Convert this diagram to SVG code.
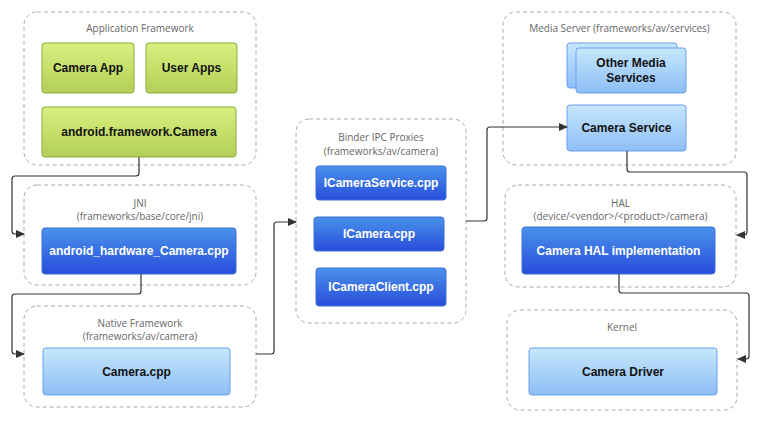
<svg xmlns="http://www.w3.org/2000/svg" width="760" height="421" viewBox="0 0 760 421">
<defs>
<linearGradient id="gGreen" x1="0" y1="0" x2="0" y2="1"><stop offset="0" stop-color="#d8f07e"/><stop offset="1" stop-color="#b3cf58"/></linearGradient>
<linearGradient id="gDark" x1="0" y1="0" x2="0" y2="1"><stop offset="0" stop-color="#4a92ea"/><stop offset="1" stop-color="#284ddc"/></linearGradient>
<linearGradient id="gLight" x1="0" y1="0" x2="0" y2="1"><stop offset="0" stop-color="#c6e7fb"/><stop offset="1" stop-color="#8ebef7"/></linearGradient>
<marker id="arr" markerWidth="9" markerHeight="8" refX="8" refY="4" orient="auto" markerUnits="userSpaceOnUse"><path d="M0,0 L9,4 L0,8 Z" fill="#333"/></marker>
<style>
.cont{fill:#fff;stroke:#aaa;stroke-width:1;stroke-dasharray:4 3}
.title{font-family:"Open Sans","DejaVu Sans",sans-serif;font-size:10px;fill:#666;text-anchor:middle}
.green{fill:url(#gGreen);stroke:#8dab3c;stroke-width:1}
.dark{fill:url(#gDark);stroke:#3d6fd8;stroke-width:1}
.light{fill:url(#gLight);stroke:#6a9fe9;stroke-width:1}
.lbl{font-family:"Liberation Sans",Arial,sans-serif;font-size:12px;font-weight:bold;text-anchor:middle;fill:#111}
.wl{fill:#fff}
.conn{fill:none;stroke:#333;stroke-width:1.2;marker-end:url(#arr)}
</style>
</defs>
<rect width="760" height="421" fill="#fff"/>

<g id="app-framework">
<rect class="cont" x="24" y="12" width="232" height="153" rx="13"/>
<text class="title" x="140" y="31.5">Application Framework</text>
</g>
<g id="camera-app">
<rect class="green" x="42" y="43" width="92" height="50" rx="3"/>
<text class="lbl" x="88" y="72">Camera App</text>
</g>
<g id="user-apps">
<rect class="green" x="146" y="43" width="91" height="50" rx="3"/>
<text class="lbl" x="191.5" y="72">User Apps</text>
</g>
<g id="android-framework-camera">
<rect class="green" x="42" y="107" width="194" height="50" rx="3"/>
<text class="lbl" x="139" y="136">android.framework.Camera</text>
</g>

<g id="jni">
<rect class="cont" x="24" y="185" width="232" height="100" rx="13"/>
<text class="title" x="140" y="206.5">JNI</text>
<text class="title" x="140" y="219.5">(frameworks/base/core/jni)</text>
</g>
<g id="android-hardware-camera">
<rect class="dark" x="42" y="228" width="194" height="46" rx="3"/>
<text class="lbl wl" x="139" y="255">android_hardware_Camera.cpp</text>
</g>

<g id="native-framework">
<rect class="cont" x="24" y="306" width="232" height="101" rx="13"/>
<text class="title" x="140" y="326.5">Native Framework</text>
<text class="title" x="140" y="339.5">(frameworks/av/camera)</text>
</g>
<g id="camera-cpp">
<rect class="light" x="43" y="348" width="187" height="47" rx="3"/>
<text class="lbl" x="136.5" y="375.5">Camera.cpp</text>
</g>

<g id="binder-ipc">
<rect class="cont" x="296" y="119" width="170" height="204" rx="13"/>
<text class="title" x="381" y="140.5">Binder IPC Proxies</text>
<text class="title" x="381" y="154.5">(frameworks/av/camera)</text>
</g>
<g id="icameraservice">
<rect class="dark" x="316" y="166" width="130" height="34" rx="3"/>
<text class="lbl wl" x="381" y="187">ICameraService.cpp</text>
</g>
<g id="icamera">
<rect class="dark" x="314" y="217" width="130" height="34" rx="3"/>
<text class="lbl wl" x="379" y="238">ICamera.cpp</text>
</g>
<g id="icameraclient">
<rect class="dark" x="316" y="268" width="130" height="38" rx="3"/>
<text class="lbl wl" x="381" y="291">ICameraClient.cpp</text>
</g>

<g id="media-server">
<rect class="cont" x="503" y="12" width="233" height="153" rx="13"/>
<text class="title" x="619.5" y="31.5">Media Server (frameworks/av/services)</text>
</g>
<g id="other-media-services">
<rect class="light" x="567" y="43" width="110" height="45" rx="3"/>
<rect class="light" x="576" y="48" width="110" height="45" rx="3"/>
<text class="lbl" x="631" y="67">Other Media</text>
<text class="lbl" x="631" y="82">Services</text>
</g>
<g id="camera-service">
<rect class="light" x="567" y="105" width="119" height="46" rx="3"/>
<text class="lbl" x="626.5" y="132">Camera Service</text>
</g>

<g id="hal">
<rect class="cont" x="505" y="185" width="231" height="102" rx="13"/>
<text class="title" x="620.5" y="207">HAL</text>
<text class="title" x="620.5" y="219.5">(device/&lt;vendor&gt;/&lt;product&gt;/camera)</text>
</g>
<g id="camera-hal">
<rect class="dark" x="522" y="227" width="193" height="47" rx="3"/>
<text class="lbl wl" x="618.5" y="254.5">Camera HAL implementation</text>
</g>

<g id="kernel">
<rect class="cont" x="507" y="310" width="230" height="100" rx="13"/>
<text class="title" x="622" y="330.5">Kernel</text>
</g>
<g id="camera-driver">
<rect class="light" x="529" y="348" width="188" height="47" rx="3"/>
<text class="lbl" x="623" y="375.5">Camera Driver</text>
</g>

<g id="connectors">
<path class="conn" d="M139,157 V173 Q139,176 136,176 H15 Q12,176 12,179 V231 Q12,234 15,234 H24"/>
<path class="conn" d="M141,274 V291 Q141,294 138,294 H15 Q12,294 12,297 V351 Q12,354 15,354 H24"/>
<path class="conn" d="M256,354 H271 Q274,354 274,351 V225 Q274,222 277,222 H296"/>
<path class="conn" d="M466,221 H484 Q487,221 487,218 V130 Q487,127 490,127 H567"/>
<path class="conn" d="M627,151 V169 Q627,172 630,172 H744 Q747,172 747,175 V232 Q747,235 744,235 H737"/>
<path class="conn" d="M619,274 V290 Q619,293 622,293 H746 Q749,293 749,296 V356 Q749,359 746,359 H738"/>
</g>
</svg>
